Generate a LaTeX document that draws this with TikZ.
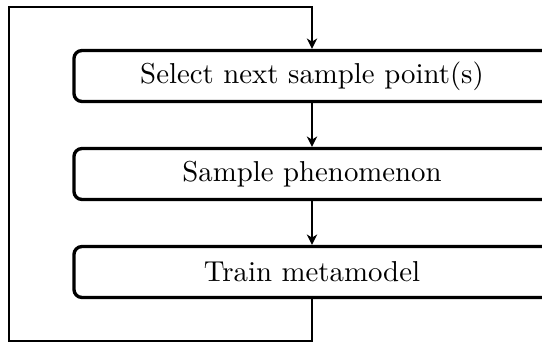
\documentclass[tikz,border=0pt]{standalone}
\usetikzlibrary{arrows.meta}
\begin{document}
\begin{tikzpicture}[x=0.3472pt,y=-0.3472pt,
  stepbox/.style={draw, line width=1.15pt, rounded corners=2.8pt, minimum width=165.3pt, minimum height=17.7pt, inner sep=0pt, fill=white},
  conn/.style={line width=0.7pt},
  arr/.style={conn, -{Stealth[length=3.6pt, width=3.6pt, inset=1.1pt]}}]
\useasboundingbox (0,0) rectangle (542,344);
\clip (0,0) rectangle (542,344);
\node[stepbox] (a) at (312,76) {Select next sample point(s)};
\node[stepbox] (b) at (312,174) {Sample phenomenon};
\node[stepbox] (c) at (312,272) {Train metamodel};
\coordinate (p1) at (312,341);
\coordinate (p2) at (9.3,341);
\coordinate (p3) at (9.3,7.3);
\coordinate (p4) at (312,7.3);
\draw[arr] (a) -- (b);
\draw[arr] (b) -- (c);
\draw[arr] (c.south) -- (p1) -- (p2) -- (p3) -- (p4) -- (a.north);
\end{tikzpicture}
\end{document}
